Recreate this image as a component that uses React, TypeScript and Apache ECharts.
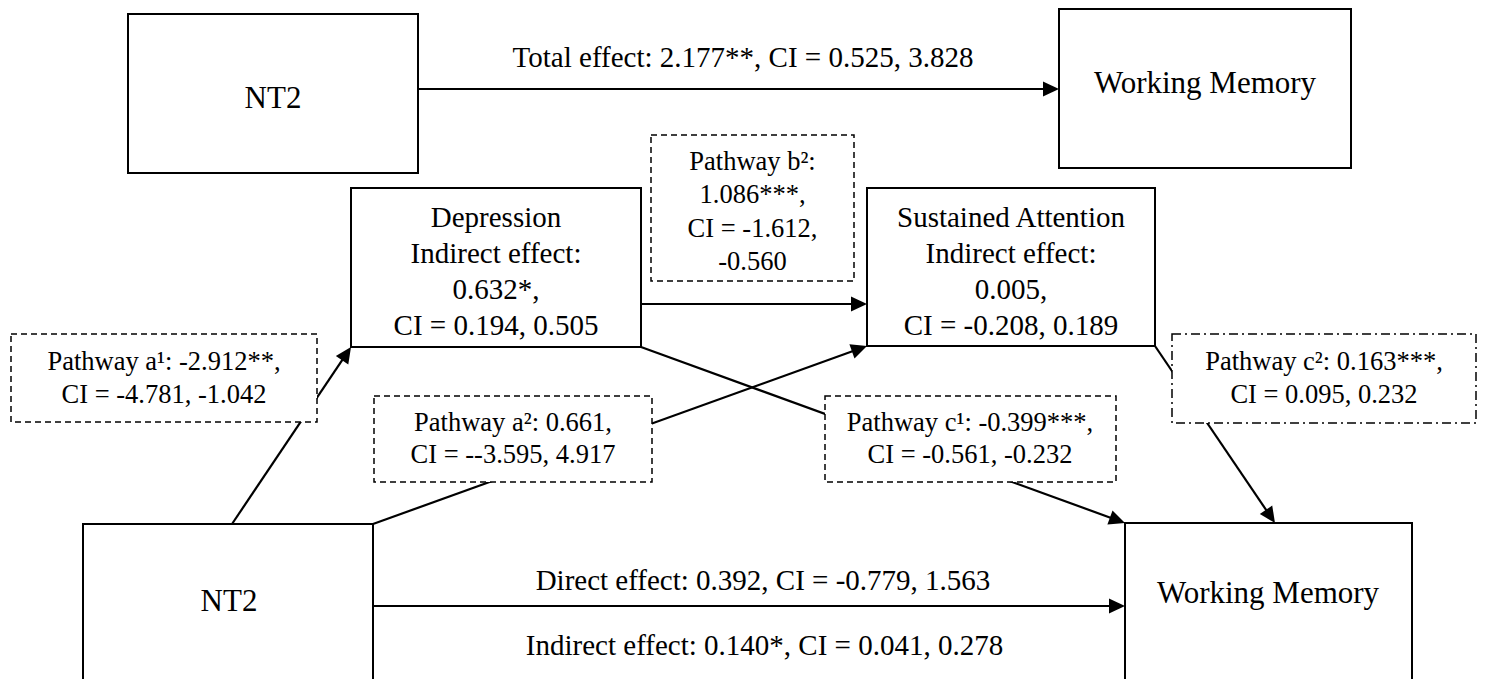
import React, { useEffect, useRef } from "react";
import * as echarts from "echarts";

// ---------- DATA (texts of the path model) ----------
const nodeLines: string[][] = [
  ["NT2"],
  ["Working Memory"],
  ["Depression", "Indirect effect:", "0.632*,", "CI = 0.194, 0.505"],
  ["Sustained Attention", "Indirect effect:", "0.005,", "CI = -0.208, 0.189"],
  ["NT2"],
  ["Working Memory"],
];

const pathwayLines: string[][] = [
  ["Pathway a\u00b9: -2.912**,", "CI = -4.781, -1.042"],
  ["Pathway a\u00b2: 0.661,", "CI = --3.595, 4.917"],
  ["Pathway b\u00b2:", "1.086***,", "CI = -1.612,", "-0.560"],
  ["Pathway c\u00b9: -0.399***,", "CI = -0.561, -0.232"],
  ["Pathway c\u00b2: 0.163***,", "CI = 0.095, 0.232"],
];

const effectLabels: string[] = [
  "Total effect: 2.177**, CI = 0.525, 3.828",
  "Direct effect: 0.392, CI = -0.779, 1.563",
  "Indirect effect: 0.140*, CI = 0.041, 0.278",
];

// ---------- LAYOUT (positions in the 1486 x 679 plane) ----------
const nodeBox: number[][] = [
  [128, 14, 418, 173],
  [1059, 9, 1351, 168],
  [351, 188, 641, 347],
  [867, 188, 1155, 346],
  [83, 524, 373, 720],
  [1125, 523, 1412, 720],
];
const nodeTextX: number[] = [273, 1205, 496, 1011, 229, 1268];
const nodeBaselines: number[][] = [
  [108],
  [93],
  [227, 262.5, 298.5, 334.5],
  [227, 262.5, 298.5, 334.5],
  [611],
  [603],
];
const nodeFont: number[] = [31, 31, 29, 29, 31, 31];

const pathBox: number[][] = [
  [11, 334, 317, 422],
  [374, 396, 652, 482],
  [651, 135, 854, 281],
  [825, 396, 1116, 482],
  [1172, 334, 1476, 423],
];
const pathTextX: number[] = [164, 513, 752.5, 970, 1324];
const pathBaselines: number[][] = [
  [370, 403],
  [431.5, 463.5],
  [170, 203.5, 237, 270],
  [431.5, 463.5],
  [370, 403],
];
const pathDash: number[][] = [
  [6, 4],
  [6, 4],
  [6, 4],
  [6, 4],
  [9, 4, 2, 4],
];

const arrows: number[][] = [
  [418, 89, 1059, 89],
  [232, 524, 351, 347],
  [373, 524, 867, 346],
  [641, 304, 867, 304],
  [641, 347, 1125, 523],
  [1155, 346, 1275, 523],
  [373, 606, 1125, 606],
];

const effectPos: number[][] = [
  [743, 67],
  [763, 590],
  [764.5, 655],
];

const FONT = '"Liberation Serif", "Times New Roman", Times, serif';
const W = 1486;
const H = 679;

function textEl(x: number, baseline: number, s: string, fs: number) {
  return {
    type: "text",
    x,
    y: baseline - 0.34 * fs,
    silent: true,
    style: {
      text: s,
      fontSize: fs,
      fontFamily: FONT,
      fill: "#000",
      align: "center",
      verticalAlign: "middle",
    },
  };
}

export default function App() {
  const ref = useRef<HTMLDivElement>(null);

  useEffect(() => {
    if (!ref.current) return;
    const chart = echarts.init(ref.current, null, { renderer: "svg" });

    const arrowSeries = {
      type: "custom",
      coordinateSystem: "cartesian2d",
      clip: false,
      z: 1,
      data: arrows.map((_, i) => [i, 0]),
      renderItem: (params: any, api: any) => {
        const a = arrows[params.dataIndex];
        const p1 = api.coord([a[0], a[1]]);
        const p2 = api.coord([a[2], a[3]]);
        const dx = p2[0] - p1[0];
        const dy = p2[1] - p1[1];
        const len = Math.sqrt(dx * dx + dy * dy);
        const ux = dx / len;
        const uy = dy / len;
        const L = 16;
        const HW = 7.5;
        const bx = p2[0] - ux * L;
        const by = p2[1] - uy * L;
        return {
          type: "group",
          children: [
            {
              type: "line",
              shape: { x1: p1[0], y1: p1[1], x2: bx + ux * 2, y2: by + uy * 2 },
              style: { stroke: "#000", lineWidth: 2.2 },
            },
            {
              type: "polygon",
              shape: {
                points: [
                  [p2[0], p2[1]],
                  [bx - uy * HW, by + ux * HW],
                  [bx + uy * HW, by - ux * HW],
                ],
              },
              style: { fill: "#000" },
            },
          ],
        };
      },
    };

    const effectSeries = {
      type: "custom",
      coordinateSystem: "cartesian2d",
      clip: false,
      z: 2,
      data: effectLabels.map((_, i) => [i, 0]),
      renderItem: (params: any, api: any) => {
        const i = params.dataIndex;
        const p = api.coord([effectPos[i][0], effectPos[i][1]]);
        return textEl(p[0], p[1], effectLabels[i], 29);
      },
    };

    const pathSeries = {
      type: "custom",
      coordinateSystem: "cartesian2d",
      clip: false,
      z: 3,
      data: pathwayLines.map((_, i) => [i, 0]),
      renderItem: (params: any, api: any) => {
        const i = params.dataIndex;
        const b = pathBox[i];
        const tl = api.coord([b[0], b[1]]);
        const br = api.coord([b[2], b[3]]);
        const children: any[] = [
          {
            type: "rect",
            shape: { x: tl[0], y: tl[1], width: br[0] - tl[0], height: br[1] - tl[1] },
            style: { fill: "#fff", stroke: "#000", lineWidth: 1.5, lineDash: pathDash[i] },
          },
        ];
        pathwayLines[i].forEach((s, k) => {
          const p = api.coord([pathTextX[i], pathBaselines[i][k]]);
          children.push(textEl(p[0], p[1], s, 26.5));
        });
        return { type: "group", children };
      },
    };

    const nodeSeries = {
      type: "custom",
      coordinateSystem: "cartesian2d",
      clip: false,
      z: 4,
      data: nodeLines.map((_, i) => [i, 0]),
      renderItem: (params: any, api: any) => {
        const i = params.dataIndex;
        const b = nodeBox[i];
        const tl = api.coord([b[0], b[1]]);
        const br = api.coord([b[2], b[3]]);
        const children: any[] = [
          {
            type: "rect",
            shape: { x: tl[0], y: tl[1], width: br[0] - tl[0], height: br[1] - tl[1] },
            style: { fill: "#fff", stroke: "#000", lineWidth: 2 },
          },
        ];
        nodeLines[i].forEach((s, k) => {
          const p = api.coord([nodeTextX[i], nodeBaselines[i][k]]);
          children.push(textEl(p[0], p[1], s, nodeFont[i]));
        });
        return { type: "group", children };
      },
    };

    chart.setOption({
      animation: false,
      backgroundColor: "#fff",
      grid: { left: 0, right: 0, top: 0, bottom: 0 },
      xAxis: { type: "value", min: 0, max: W, show: false },
      yAxis: { type: "value", min: 0, max: H, inverse: true, show: false },
      series: [arrowSeries, effectSeries, pathSeries, nodeSeries],
    });

    return () => chart.dispose();
  }, []);

  return (
    <div
      ref={ref}
      style={{ position: "fixed", left: 0, top: 0, width: W, height: H, background: "#fff" }}
    />
  );
}
